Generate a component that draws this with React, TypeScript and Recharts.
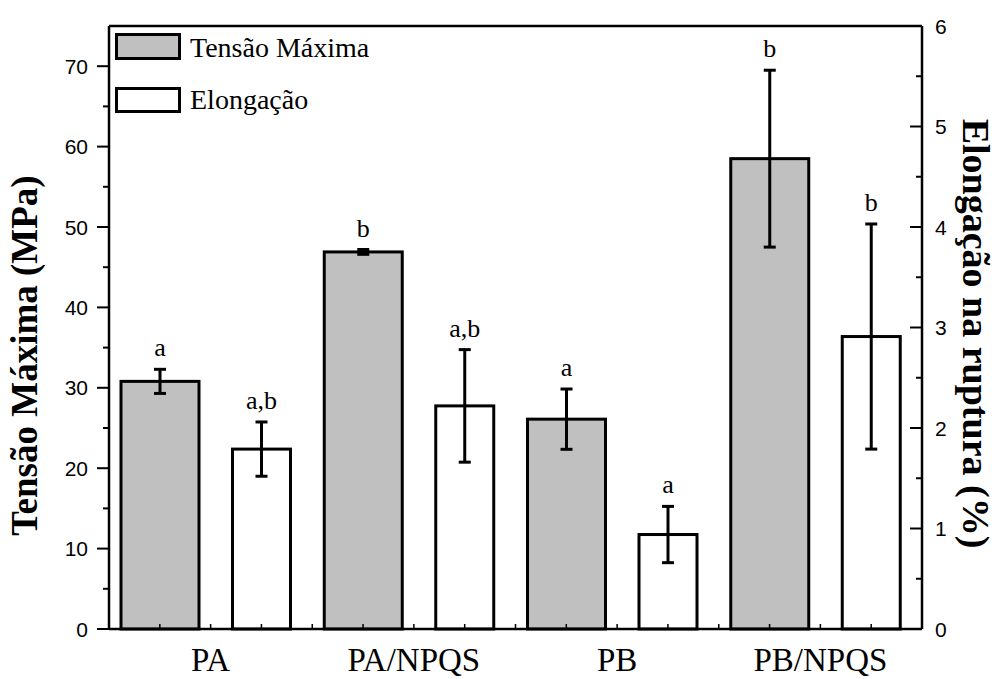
import React from 'react';
import { BarChart, Bar, XAxis, YAxis, ErrorBar, ReferenceLine, Legend, Label } from 'recharts';

const categories = ['PA', 'PA/NPQS', 'PB', 'PB/NPQS'];
const tensao = [30.8, 46.9, 26.1, 58.5];
const tensaoErr = [1.5, 0.3, 3.75, 11.0];
const elongacao = [1.79, 2.22, 0.94, 2.91];
const elongacaoErr = [0.27, 0.56, 0.28, 1.12];
const tensaoLetters = ['a', 'b', 'a', 'b'];
const elongacaoLetters = ['a,b', 'a,b', 'a', 'b'];
const leftTicks = [0, 5, 10, 15, 20, 25, 30, 35, 40, 45, 50, 55, 60, 65, 70];
const rightTicks = [0, 0.5, 1, 1.5, 2, 2.5, 3, 3.5, 4, 4.5, 5, 5.5, 6];

const rows = categories.map((name, i) => ({
  name,
  tensao: tensao[i],
  tensaoErr: tensaoErr[i],
  tensaoLetter: tensaoLetters[i],
  elongacao: elongacao[i],
  elongacaoErr: elongacaoErr[i],
  elongacaoLetter: elongacaoLetters[i],
}));

const serif = '"Liberation Serif", "Times New Roman", serif';
const sans = '"Liberation Sans", Arial, sans-serif';

// bar + significance letter above the error bar
function makeShape(kind: 'tensao' | 'elongacao', drawWidth: number, fill: string) {
  return (props: any) => {
    const { x, y, width, height } = props;
    const p = props.payload || props;
    const value = p[kind];
    const err = p[kind + 'Err'];
    const letter = p[kind + 'Letter'];
    const cx = x + width / 2;
    const errTop = value ? y - (err * height) / value : y;
    return (
      <g>
        <rect x={cx - drawWidth / 2} y={y} width={drawWidth} height={height} fill={fill} stroke="#000" strokeWidth={3} />
        <text x={cx} y={errTop - 13} textAnchor="middle" fontFamily={serif} fontSize={26} fill="#000">
          {letter}
        </text>
      </g>
    );
  };
}

const LeftTick = ({ x, y, payload }: any) => {
  const major = payload.value % 10 === 0;
  return (
    <g>
      <line x1={x - (major ? 12 : 6)} y1={y} x2={x} y2={y} stroke="#000" strokeWidth={2} />
      {major && (
        <text x={x - 21} y={y} dy="0.36em" textAnchor="end" fontFamily={sans} fontSize={21} fill="#000">
          {payload.value}
        </text>
      )}
    </g>
  );
};

const RightTick = ({ x, y, payload }: any) => {
  const major = Number.isInteger(payload.value);
  return (
    <g>
      <line x1={x} y1={y} x2={x - (major ? 12 : 6)} y2={y} stroke="#000" strokeWidth={2} />
      {major && (
        <text x={x + 13} y={y} dy="0.36em" textAnchor="start" fontFamily={sans} fontSize={21} fill="#000">
          {payload.value}
        </text>
      )}
    </g>
  );
};

// small inward ticks along the bottom / top frame
const minorMarks = (x: number, y: number, half: number, dir: number) =>
  [-2, -1, 0, 1].map((k) => (
    <line key={k} x1={x + (k * half) / 2} y1={y} x2={x + (k * half) / 2} y2={y + dir * 5} stroke="#000" strokeWidth={1.5} />
  ));

const CatTick = ({ x, y, payload }: any) => (
  <g>
    {minorMarks(x, y, payload.offset || 101.5, -1)}
    <text x={x} y={y + 42} textAnchor="middle" fontFamily={serif} fontSize={33} fill="#000">
      {payload.value}
    </text>
  </g>
);

const TopTick = ({ x, y, payload }: any) => <g>{minorMarks(x, y, payload.offset || 101.5, 1)}</g>;

const LegendBox = () => (
  <svg width={300} height={100} style={{ display: 'block' }}>
    <g transform="translate(-110,-28)">
      <rect x={116.5} y={34.5} width={63} height={24} fill="#c0c0c0" stroke="#000" strokeWidth={3} />
      <text x={190} y={57} fontFamily={serif} fontSize={28} fill="#000">Tensão Máxima</text>
      <rect x={116.5} y={88.5} width={63} height={23} fill="#fff" stroke="#000" strokeWidth={3} />
      <text x={190} y={109} fontFamily={serif} fontSize={28} fill="#000">Elongação</text>
    </g>
  </svg>
);

export default function App() {
  return (
    <div style={{ position: 'absolute', left: 0, top: 0, width: 1003, height: 679, background: '#fff' }}>
      <BarChart
        width={1003}
        height={679}
        data={rows}
        margin={{ top: 26, right: 0, bottom: 0, left: 0 }}
        barSize={80}
        barGap={21.5}
      >
        <XAxis
          dataKey="name"
          height={50}
          interval={0}
          tickLine={false}
          tickSize={0}
          tickMargin={0}
          axisLine={{ stroke: '#000', strokeWidth: 2.5 }}
          tick={<CatTick />}
        />
        <XAxis
          xAxisId="top"
          orientation="top"
          dataKey="name"
          height={0}
          interval={0}
          tickLine={false}
          tickSize={0}
          tickMargin={0}
          axisLine={false}
          tick={<TopTick />}
        />
        <YAxis
          yAxisId="left"
          width={109}
          domain={[0, 75]}
          ticks={leftTicks}
          interval={0}
          tickLine={false}
          tickSize={0}
          tickMargin={0}
          axisLine={{ stroke: '#000', strokeWidth: 2.5 }}
          tick={<LeftTick />}
        >
          <Label
            content={({ viewBox }: any) => (
              <text
                transform={`translate(${viewBox.x + 37},${viewBox.y + viewBox.height / 2 + 28}) rotate(-90)`}
                textAnchor="middle"
                fontFamily={serif}
                fontWeight="bold"
                fontSize={37}
                fill="#000"
              >
                Tensão Máxima (MPa)
              </text>
            )}
          />
        </YAxis>
        <YAxis
          yAxisId="right"
          orientation="right"
          width={81}
          domain={[0, 6]}
          ticks={rightTicks}
          interval={0}
          tickLine={false}
          tickSize={0}
          tickMargin={0}
          axisLine={{ stroke: '#000', strokeWidth: 2.5 }}
          tick={<RightTick />}
        >
          <Label
            content={({ viewBox }: any) => (
              <text
                transform={`translate(${viewBox.x + 41},${viewBox.y + viewBox.height / 2 + 6}) rotate(90)`}
                textAnchor="middle"
                fontFamily={serif}
                fontWeight="bold"
                fontSize={38}
                fill="#000"
              >
                Elongação na ruptura (%)
              </text>
            )}
          />
        </YAxis>
        <ReferenceLine yAxisId="left" y={75} stroke="#000" strokeWidth={2.5} />
        <Bar yAxisId="left" dataKey="tensao" isAnimationActive={false} shape={makeShape('tensao', 78, '#c0c0c0')}>
          <ErrorBar dataKey="tensaoErr" direction="y" width={6} stroke="#000" strokeWidth={3} />
        </Bar>
        <Bar yAxisId="right" dataKey="elongacao" isAnimationActive={false} shape={makeShape('elongacao', 58, '#ffffff')}>
          <ErrorBar dataKey="elongacaoErr" direction="y" width={6} stroke="#000" strokeWidth={3} />
        </Bar>
        <Legend
          verticalAlign="middle"
          align="center"
          layout="horizontal"
          wrapperStyle={{ position: 'absolute', left: 110, top: 28, width: 300, height: 100 }}
          content={<LegendBox />}
        />
      </BarChart>
    </div>
  );
}
